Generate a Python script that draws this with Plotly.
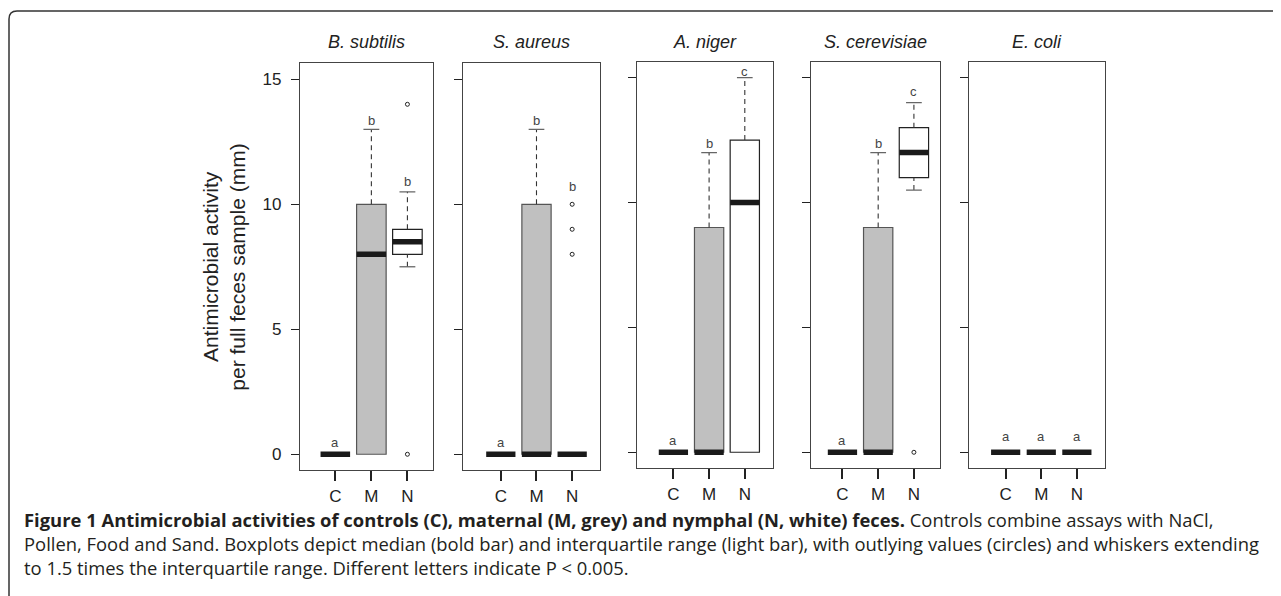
import plotly.graph_objects as go

# ---------------- data ----------------
species = ["B. subtilis", "S. aureus", "A. niger", "S. cerevisiae", "E. coli"]
groups = ["C", "M", "N"]
q1 = [[0, 0, 8], [0, 0, 0], [0, 0, 0], [0, 0, 11], [0, 0, 0]]
medians = [[0, 8, 8.5], [0, 0, 0], [0, 0, 10], [0, 0, 12], [0, 0, 0]]
q3 = [[0, 10, 9], [0, 10, 0], [0, 9, 12.5], [0, 9, 13], [0, 0, 0]]
lower_whisker = [[0, 0, 7.5], [0, 0, 0], [0, 0, 0], [0, 0, 10.5], [0, 0, 0]]
upper_whisker = [[0, 13, 10.5], [0, 13, 0], [0, 12, 15], [0, 12, 14], [0, 0, 0]]
outliers = [[[], [], [14, 0]], [[], [], [10, 9, 8]], [[], [], []], [[], [], [0]], [[], [], []]]
letters = [["a", "b", "b"], ["a", "b", "b"], ["a", "b", "c"], ["a", "b", "c"], ["a", "a", "a"]]
letter_y = [[0.46, 13.34, 10.9], [0.46, 13.34, 10.7], [0.46, 12.36, 15.26],
            [0.46, 12.36, 14.46], [0.62, 0.62, 0.62]]
y_ticks = [0, 5, 10, 15]
y_title = ["Antimicrobial activity", "per full feces sample (mm)"]
caption = [
    "<b>Figure 1 Antimicrobial activities of controls (C), maternal (M, grey) and nymphal (N, white) feces.</b> Controls combine assays with NaCl,",
    "Pollen, Food and Sand. Boxplots depict median (bold bar) and interquartile range (light bar), with outlying values (circles) and whiskers extending",
    "to 1.5 times the interquartile range. Different letters indicate P < 0.005.",
]

# ---------------- style / layout ----------------
OFF = 8                      # page body margin of the html page
FW, FH = 1281 - OFF, 596 - OFF
box_fill = {"C": "#c0c0c0", "M": "#c0c0c0", "N": "#ffffff"}
box_edge = {"C": "#555555", "M": "#555555", "N": "#222222"}
BOXW = 0.82
STAPLE = 0.22
x_dom_px = [(300, 433), (463, 600), (637, 773), (811, 940), (969, 1105)]
y_dom_px = [(63.3, 470), (63.3, 470), (61.7, 468), (61.7, 468), (61.7, 468)]
x_ranges = [[0.02, 3.71], [-0.06, 3.78], [-0.02, 3.79], [0.12, 3.73], [-0.03, 3.79]]
y_range = [-0.63, 15.64]
FONT = "Liberation Sans, Arial, sans-serif"


def px_x(p):
    return (p - OFF) / FW


def px_y(p):
    return 1 - (p - OFF) / FH


fig = go.Figure()
annotations = []
layout_axes = {}

for i, sp in enumerate(species):
    k = "" if i == 0 else str(i + 1)
    xa, ya = "x" + k, "y" + k
    for j, g in enumerate(groups):
        pos = j + 1
        # box (interquartile range)
        if q3[i][j] > q1[i][j]:
            fig.add_trace(go.Bar(
                x=[pos], y=[q3[i][j] - q1[i][j]], base=[q1[i][j]], width=BOXW,
                marker=dict(color=box_fill[g], line=dict(color=box_edge[g], width=1.2)),
                xaxis=xa, yaxis=ya, showlegend=False, hoverinfo="skip"))
        # upper whisker
        if upper_whisker[i][j] > q3[i][j]:
            fig.add_trace(go.Scatter(
                x=[pos, pos], y=[q3[i][j], upper_whisker[i][j]], mode="lines",
                line=dict(color="#333333", width=1.1, dash="5px,4px"),
                xaxis=xa, yaxis=ya, showlegend=False, hoverinfo="skip"))
            fig.add_trace(go.Scatter(
                x=[pos - STAPLE, pos + STAPLE], y=[upper_whisker[i][j]] * 2, mode="lines",
                line=dict(color="#666666", width=1.3),
                xaxis=xa, yaxis=ya, showlegend=False, hoverinfo="skip"))
        # lower whisker
        if lower_whisker[i][j] < q1[i][j]:
            fig.add_trace(go.Scatter(
                x=[pos, pos], y=[lower_whisker[i][j], q1[i][j]], mode="lines",
                line=dict(color="#333333", width=1.1, dash="5px,4px"),
                xaxis=xa, yaxis=ya, showlegend=False, hoverinfo="skip"))
            fig.add_trace(go.Scatter(
                x=[pos - STAPLE, pos + STAPLE], y=[lower_whisker[i][j]] * 2, mode="lines",
                line=dict(color="#666666", width=1.3),
                xaxis=xa, yaxis=ya, showlegend=False, hoverinfo="skip"))
        # median
        fig.add_trace(go.Scatter(
            x=[pos - BOXW / 2, pos + BOXW / 2], y=[medians[i][j]] * 2, mode="lines",
            line=dict(color="#1a1a1a", width=5.5),
            xaxis=xa, yaxis=ya, showlegend=False, hoverinfo="skip"))
        # outliers
        if outliers[i][j]:
            fig.add_trace(go.Scatter(
                x=[pos] * len(outliers[i][j]), y=outliers[i][j], mode="markers",
                marker=dict(symbol="circle-open", size=4, color="#222222", line=dict(width=1)),
                xaxis=xa, yaxis=ya, showlegend=False, hoverinfo="skip"))
        # significance letters
        annotations.append(dict(
            x=pos, y=letter_y[i][j], xref=xa, yref=ya, text=letters[i][j],
            showarrow=False, yanchor="middle", xanchor="center",
            font=dict(family=FONT, size=13, color="#444444")))

    xd = [px_x(x_dom_px[i][0]), px_x(x_dom_px[i][1])]
    yd = [px_y(y_dom_px[i][1]), px_y(y_dom_px[i][0])]
    layout_axes["xaxis" + k] = dict(
        domain=xd, range=x_ranges[i], anchor=ya,
        tickvals=[1, 2, 3], ticktext=groups, ticks="outside", ticklen=10,
        tickwidth=1.5, tickcolor="#222222", showline=True, mirror=True,
        linecolor="#444444", linewidth=1.3, showgrid=False, zeroline=False,
        tickfont=dict(family=FONT, size=17, color="#222222"), fixedrange=True)
    layout_axes["yaxis" + k] = dict(
        domain=yd, range=y_range, anchor=xa,
        tickvals=y_ticks, ticks="outside", ticklen=8, tickwidth=1.2,
        tickcolor="#222222", showline=True, mirror=True, linecolor="#444444",
        linewidth=1.3, showgrid=False, zeroline=False,
        showticklabels=(i == 0), ticklabelstandoff=6,
        tickfont=dict(family=FONT, size=17, color="#222222"), fixedrange=True)
    # panel title
    annotations.append(dict(
        x=(xd[0] + xd[1]) / 2, y=px_y(41.7), xref="paper", yref="paper",
        text="<i>" + sp + "</i>", showarrow=False, xanchor="center", yanchor="middle",
        font=dict(family=FONT, size=18, color="#222222")))

# y-axis title (two lines)
for line, xp in zip(y_title, [210, 236.7]):
    annotations.append(dict(
        x=px_x(xp), y=px_y(267), xref="paper", yref="paper", text=line,
        textangle=-90, showarrow=False, xanchor="center", yanchor="middle",
        font=dict(family=FONT, size=21, color="#222222")))

# caption
for line, yp in zip(caption, [519, 543, 567]):
    annotations.append(dict(
        x=px_x(22), y=px_y(yp), xref="paper", yref="paper", text=line,
        showarrow=False, xanchor="left", yanchor="middle", align="left",
        font=dict(family="Open Sans, sans-serif", size=18.4, color="#231f20")))

# figure frame (rounded top-left corner)
frame = "M {x0},{yb} L {x0},{y1} Q {x0},{yt} {x2},{yt} L {xr},{yt}".format(
    x0=px_x(9), yb=px_y(610), y1=px_y(19), yt=px_y(11), x2=px_x(17), xr=px_x(1300))

fig.update_layout(
    width=FW, height=FH, margin=dict(l=0, r=0, t=0, b=0),
    paper_bgcolor="white", plot_bgcolor="white", barmode="overlay",
    showlegend=False, hovermode=False,
    annotations=annotations,
    shapes=[dict(type="path", path=frame, xref="paper", yref="paper",
                 line=dict(color="#333333", width=1.5))],
    **layout_axes)

fig.write_html("out.html")
